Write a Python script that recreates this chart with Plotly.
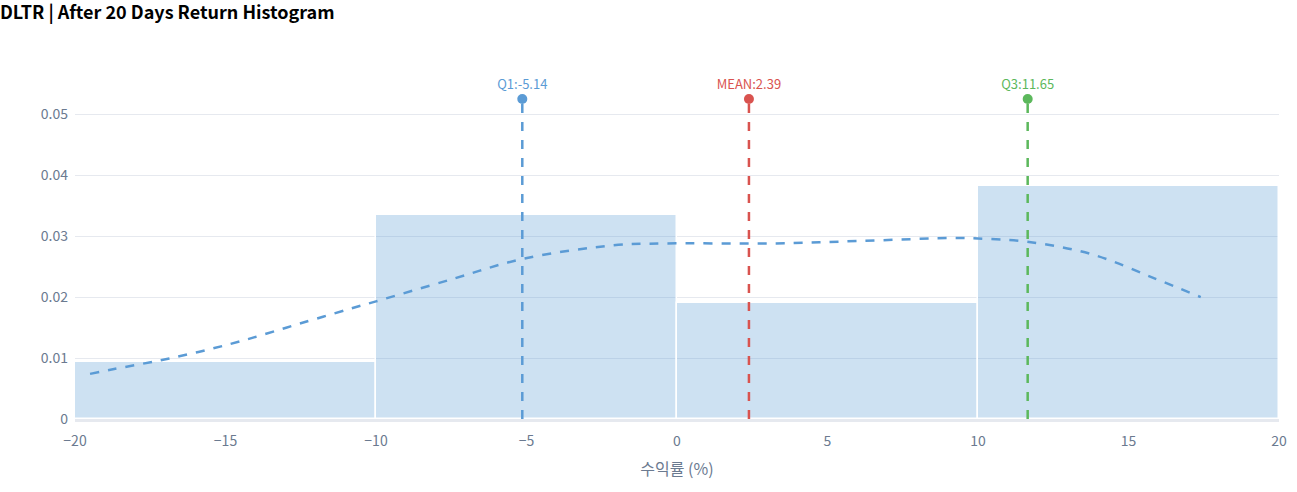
import plotly.graph_objects as go

# histogram (density)
bin_edges = [-20, -10, 0, 10, 20]
density = [0.0094, 0.0334, 0.0190, 0.0382]

# kde curve
kde_x = [-19.5, -18.7, -17.3, -15.9, -14.4, -12.5, -10.5, -10.0, -7.5, -5.1, -2.1,
         -0.5, 3.2, 6.0, 9.3, 10.0, 11.6, 13.8, 15.8, 17.4]
kde_y = [0.0074, 0.0082, 0.0095, 0.0110, 0.0129, 0.0157, 0.0186, 0.0193, 0.0229, 0.0263, 0.0285,
         0.0288, 0.0288, 0.0292, 0.0297, 0.0296, 0.0291, 0.0270, 0.0232, 0.0200]

# summary stats
stat_names = ["Q1", "MEAN", "Q3"]
stat_values = [-5.14, 2.39, 11.65]
stat_colors = ["#5b9bd5", "#d9534f", "#5cb85c"]
marker_level = 0.0525

FONT = "Noto Sans CJK KR"
TICK_COLOR = "#6b7a90"

centers = [(a + b) / 2 for a, b in zip(bin_edges[:-1], bin_edges[1:])]
widths = [b - a for a, b in zip(bin_edges[:-1], bin_edges[1:])]

fig = go.Figure()

fig.add_trace(go.Bar(
    x=centers,
    y=density,
    width=widths,
    marker=dict(color="rgba(91,155,213,0.3)", line=dict(color="white", width=1.5)),
    showlegend=False,
    hoverinfo="skip",
))

fig.add_trace(go.Scatter(
    x=kde_x,
    y=kde_y,
    mode="lines",
    line=dict(color="#5b9bd5", width=2.5, dash="dash", shape="spline"),
    showlegend=False,
))

for name, val, color in zip(stat_names, stat_values, stat_colors):
    fig.add_trace(go.Scatter(
        x=[val, val],
        y=[0, marker_level],
        mode="lines",
        line=dict(color=color, width=2.5, dash="dash"),
        showlegend=False,
    ))
    fig.add_trace(go.Scatter(
        x=[val],
        y=[marker_level],
        mode="markers+text",
        marker=dict(color=color, size=10),
        text=[f"{name}:{val}"],
        textposition="top center",
        textfont=dict(color=color, size=13, family=FONT),
        showlegend=False,
    ))

fig.update_layout(
    width=1297,
    height=492,
    bargap=0,
    plot_bgcolor="white",
    paper_bgcolor="white",
    font=dict(family=FONT, color=TICK_COLOR),
    margin=dict(l=75, r=18, t=60, b=73),
    title=dict(
        text="<b>DLTR | After 20 Days Return Histogram</b>",
        x=0, xref="container", xanchor="left",
        y=0.974, yanchor="middle",
        font=dict(family=FONT, size=18, color="black"),
    ),
    xaxis=dict(
        range=[-20, 20],
        tickvals=[-20, -15, -10, -5, 0, 5, 10, 15, 20],
        showgrid=False,
        zeroline=False,
        showline=True,
        linecolor="#e6e9ef",
        linewidth=3,
        automargin=False,
        tickfont=dict(size=14, color=TICK_COLOR),
        ticklabelstandoff=7,
        title=dict(text="수익률 (%)", font=dict(size=16, color=TICK_COLOR), standoff=16),
    ),
    yaxis=dict(
        range=[0, 0.0589],
        tickvals=[0, 0.01, 0.02, 0.03, 0.04, 0.05],
        ticktext=["0", "0.01", "0.02", "0.03", "0.04", "0.05"],
        showgrid=True,
        gridcolor="#e6e9ef",
        zeroline=False,
        automargin=False,
        tickfont=dict(size=14, color=TICK_COLOR),
        ticklabelstandoff=6,
    ),
)

fig.write_html(
    "out.html",
    config={"displayModeBar": False},
    post_script="document.body.style.margin='0';",
)
